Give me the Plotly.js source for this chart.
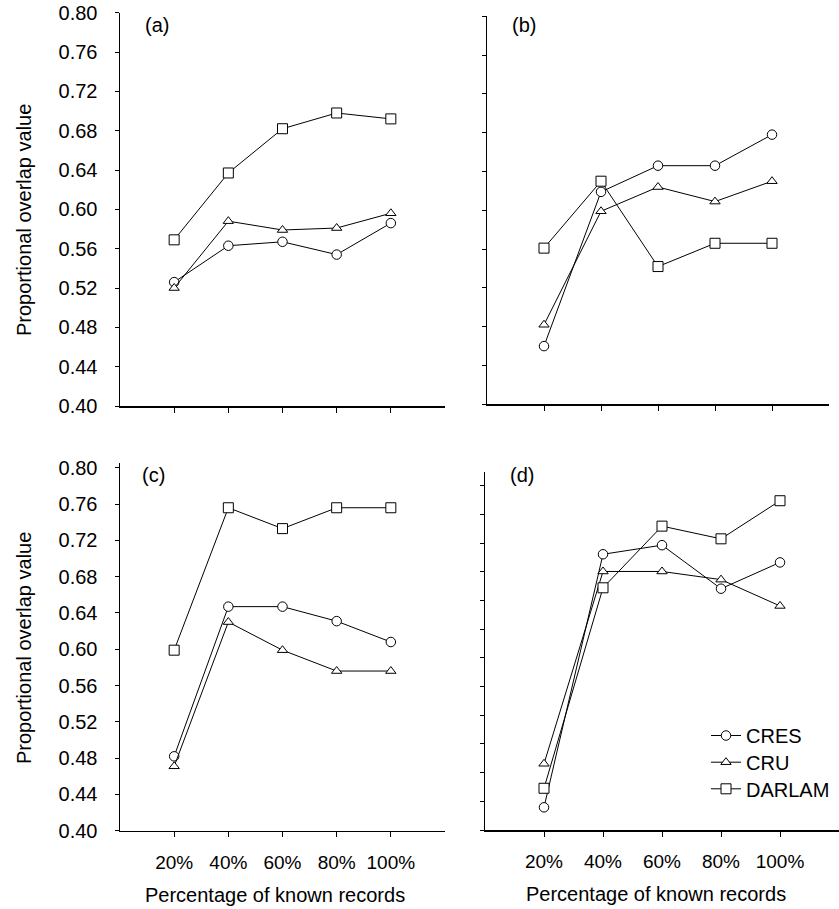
<!DOCTYPE html>
<html>
<head>
<meta charset="utf-8">
<script src="https://cdn.plot.ly/plotly-3.0.1.min.js"></script>
<style>html,body{margin:0;padding:0;background:#fff;}#chart{width:839px;height:909px;}</style>
</head>
<body>
<div id="chart"></div>
<script>
const categories = ['20%', '40%', '60%', '80%', '100%'];
const yTicks = [0.40, 0.44, 0.48, 0.52, 0.56, 0.60, 0.64, 0.68, 0.72, 0.76, 0.80];
const yTickText = ['0.40', '0.44', '0.48', '0.52', '0.56', '0.60', '0.64', '0.68', '0.72', '0.76', '0.80'];
const panelLabels = ['(a)', '(b)', '(c)', '(d)'];

const a_CRES   = [0.526, 0.563, 0.567, 0.554, 0.586];
const a_CRU    = [0.520, 0.588, 0.579, 0.581, 0.596];
const a_DARLAM = [0.569, 0.637, 0.682, 0.698, 0.692];

const b_CRES   = [0.460, 0.619, 0.646, 0.646, 0.678];
const b_CRU    = [0.482, 0.599, 0.624, 0.609, 0.630];
const b_DARLAM = [0.561, 0.630, 0.542, 0.566, 0.566];

const c_CRES   = [0.482, 0.647, 0.647, 0.631, 0.608];
const c_CRU    = [0.471, 0.630, 0.599, 0.576, 0.576];
const c_DARLAM = [0.599, 0.756, 0.733, 0.756, 0.756];

const d_CRES   = [0.425, 0.704, 0.714, 0.666, 0.695];
const d_CRU    = [0.473, 0.685, 0.685, 0.676, 0.647];
const d_DARLAM = [0.446, 0.667, 0.735, 0.721, 0.763];

const FONT = 'Liberation Sans, Arial, Helvetica, sans-serif';
const W = 839, H = 909;
const px = v => v / W;
const py = v => 1 - v / H;

const symbols = {CRES: 'circle', CRU: 'triangle-up', DARLAM: 'square'};
const sizes = {CRES: 9.5, CRU: 9, DARLAM: 10};
const legendIds = {CRES: 'legend', CRU: 'legend2', DARLAM: 'legend3'};

function trace(name, yvals, xa, ya, showLeg) {
  return {
    type: 'scatter', mode: 'lines+markers', name: name,
    x: categories, y: yvals, xaxis: xa, yaxis: ya,
    showlegend: showLeg, legend: legendIds[name],
    line: {color: '#000', width: 1},
    marker: {symbol: symbols[name], size: sizes[name], color: '#fff', line: {color: '#000', width: 1}},
    cliponaxis: false
  };
}

const data = [
  trace('CRES', a_CRES, 'x', 'y', false),
  trace('CRU', a_CRU, 'x', 'y', false),
  trace('DARLAM', a_DARLAM, 'x', 'y', false),
  trace('CRES', b_CRES, 'x2', 'y2', false),
  trace('CRU', b_CRU, 'x2', 'y2', false),
  trace('DARLAM', b_DARLAM, 'x2', 'y2', false),
  trace('CRES', c_CRES, 'x3', 'y3', false),
  trace('CRU', c_CRU, 'x3', 'y3', false),
  trace('DARLAM', c_DARLAM, 'x3', 'y3', false),
  trace('CRES', d_CRES, 'x4', 'y4', true),
  trace('CRU', d_CRU, 'x4', 'y4', true),
  trace('DARLAM', d_DARLAM, 'x4', 'y4', true)
];

function xax(domain, anchor, labels) {
  return {
    domain: domain, anchor: anchor, type: 'category', range: [-1, 5],
    showline: true, linecolor: '#000', linewidth: 1.5, mirror: false,
    ticks: 'outside', ticklen: 5, tickwidth: 1, tickcolor: '#000',
    showticklabels: labels, ticklabelstandoff: 9,
    tickfont: {family: FONT, size: 19, color: '#000'},
    showgrid: false, zeroline: false, fixedrange: true
  };
}
function yax(domain, anchor, range, labels, extra) {
  return Object.assign({
    domain: domain, anchor: anchor, range: range,
    showline: true, linecolor: '#000', linewidth: 1.5,
    ticks: 'outside', ticklen: 4, tickwidth: 1, tickcolor: '#000',
    tickmode: 'array', tickvals: yTicks, ticktext: yTickText,
    showticklabels: labels, ticklabelstandoff: 13,
    tickfont: {family: FONT, size: 20, color: '#000'},
    showgrid: false, zeroline: false, fixedrange: true
  }, extra || {});
}

const annFont = {family: FONT, size: 20, color: '#000'};
const annotations = [
  {text: panelLabels[0], x: px(143), y: py(25), xanchor: 'left', yanchor: 'middle'},
  {text: panelLabels[1], x: px(510), y: py(25), xanchor: 'left', yanchor: 'middle'},
  {text: panelLabels[2], x: px(140), y: py(475), xanchor: 'left', yanchor: 'middle'},
  {text: panelLabels[3], x: px(508), y: py(475), xanchor: 'left', yanchor: 'middle'},
  {text: 'Proportional overlap value', x: px(24), y: py(220), textangle: -90, xanchor: 'center', yanchor: 'middle'},
  {text: 'Proportional overlap value', x: px(24), y: py(648), textangle: -90, xanchor: 'center', yanchor: 'middle'},
  {text: 'Percentage of known records', x: px(275), y: py(895), xanchor: 'center', yanchor: 'middle'},
  {text: 'Percentage of known records', x: px(656), y: py(894), xanchor: 'center', yanchor: 'middle'}
].map(a => Object.assign({xref: 'paper', yref: 'paper', showarrow: false, font: annFont}, a));

function leg(topPx) {
  return {x: px(706), y: py(topPx), xanchor: 'left', yanchor: 'top',
          bgcolor: 'rgba(0,0,0,0)', borderwidth: 0, itemwidth: 30,
          font: {family: FONT, size: 20, color: '#000'}};
}

const layout = {
  width: W, height: H, autosize: false,
  margin: {l: 0, r: 0, t: 0, b: 0, pad: 0},
  paper_bgcolor: '#fff', plot_bgcolor: 'rgba(0,0,0,0)',
  font: {family: FONT, size: 20, color: '#000'},
  showlegend: true,
  legend: leg(716),
  legend2: leg(742.7),
  legend3: leg(769.3),
  xaxis: xax([px(120), px(445)], 'y', false),
  yaxis: yax([py(406), py(12.7)], 'x', [0.40, 0.80], true),
  xaxis2: xax([px(487), px(829)], 'y2', false),
  yaxis2: yax([py(404.3), py(16.3)], 'x2', [0.40, 0.80], false),
  xaxis3: xax([px(120), px(445)], 'y3', true),
  yaxis3: yax([py(830.7), py(463.3)], 'x3', [0.40, 0.805], true),
  xaxis4: xax([px(485), 1.0], 'y4', true),
  yaxis4: yax([py(830), py(471.7)], 'x4', [0.40, 0.795], false,
              {tickmode: 'linear', tick0: 0.40, dtick: 0.03163, tickvals: undefined, ticktext: undefined}),
  annotations: annotations
};

Plotly.newPlot('chart', data, layout, {staticPlot: true, displayModeBar: false});
</script>
</body>
</html>
